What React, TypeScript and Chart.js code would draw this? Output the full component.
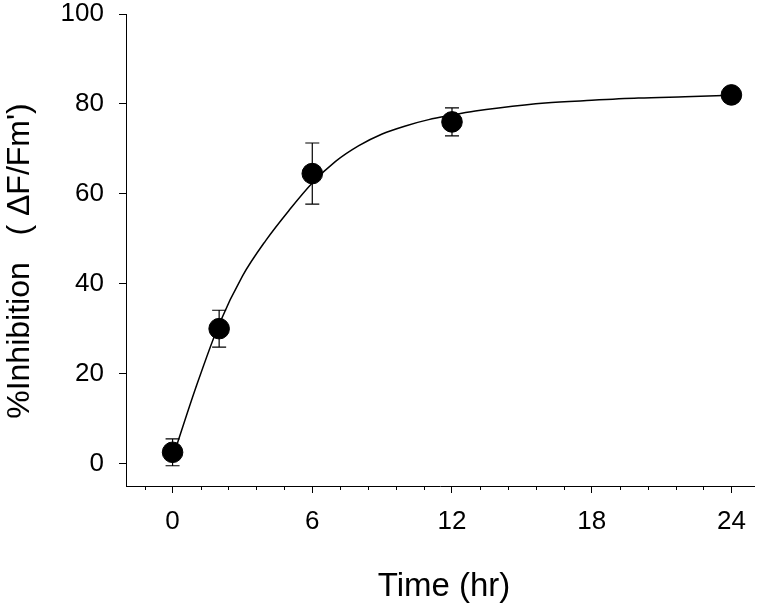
import React, { useEffect, useRef } from 'react';
import { Chart, registerables } from 'chart.js';

Chart.register(...registerables);

// ---- data ----
const timeHr = [0, 2, 6, 12, 24];
const inhibition = [2.5, 30, 64.5, 76, 82];
const inhibitionErr = [3, 4.1, 6.8, 3.1, 0];
const fitTime = [0, 1, 2, 3, 4, 5, 6, 7, 8, 9, 10, 11, 12, 13, 14, 16, 18, 20, 22, 24];
const fitValue = [1.2, 16.9, 31, 41.7, 49.6, 56.3, 62.4, 67.2, 70.7, 73.3, 75.1, 76.5, 77.5, 78.4, 79.1, 80.2, 80.8, 81.3, 81.6, 81.9];
const xMajorTicks = [0, 6, 12, 18, 24];
const xMinorStep = 1.2;
const yTicks = [0, 20, 40, 60, 80, 100];
const xTitle = 'Time (hr)';
const yTitle = "%Inhibition   ( \u0394F/Fm')";

const FONT = "'Liberation Sans', Arial, sans-serif";

const errorBarPlugin = {
  id: 'errorBars',
  beforeDatasetsDraw(chart: any) {
    const { ctx, scales } = chart;
    const xs = scales.x;
    const ys = scales.y;
    ctx.save();
    ctx.strokeStyle = '#000';
    ctx.lineWidth = 1.2;
    timeHr.forEach((t, i) => {
      const e = inhibitionErr[i];
      if (!e) return;
      const px = xs.getPixelForValue(t);
      const top = ys.getPixelForValue(inhibition[i] + e);
      const bot = ys.getPixelForValue(inhibition[i] - e);
      const cap = 7;
      ctx.beginPath();
      ctx.moveTo(px, top);
      ctx.lineTo(px, bot);
      ctx.moveTo(px - cap, top);
      ctx.lineTo(px + cap, top);
      ctx.moveTo(px - cap, bot);
      ctx.lineTo(px + cap, bot);
      ctx.stroke();
    });
    ctx.restore();
  },
};

const minorTickPlugin = {
  id: 'minorTicks',
  afterDraw(chart: any) {
    const { ctx, scales, chartArea } = chart;
    const xs = scales.x;
    ctx.save();
    ctx.strokeStyle = '#000';
    ctx.lineWidth = 1;
    for (let k = -1; k * xMinorStep <= xs.max; k++) {
      if (k % 5 === 0) continue;
      const v = k * xMinorStep;
      if (v < xs.min) continue;
      const px = Math.round(xs.getPixelForValue(v)) + 0.5;
      ctx.beginPath();
      ctx.moveTo(px, chartArea.bottom);
      ctx.lineTo(px, chartArea.bottom + 4);
      ctx.stroke();
    }
    ctx.restore();
  },
};

const titlePlugin = {
  id: 'axisTitles',
  afterDraw(chart: any) {
    const { ctx } = chart;
    ctx.save();
    ctx.fillStyle = '#000';
    ctx.textAlign = 'center';
    ctx.textBaseline = 'alphabetic';
    ctx.font = `33px ${FONT}`;
    ctx.fillText(xTitle, 444, 596);
    ctx.font = `32px ${FONT}`;
    ctx.translate(29, 261);
    ctx.rotate(-Math.PI / 2);
    ctx.fillText(yTitle, 0, 0);
    ctx.restore();
  },
};

export default function App() {
  const ref = useRef<HTMLCanvasElement>(null);

  useEffect(() => {
    document.body.style.margin = '0';
    const canvas = ref.current!;
    const chart = new Chart(canvas, {
      type: 'scatter',
      data: {
        datasets: [
          {
            label: 'Measured',
            data: timeHr.map((t, i) => ({ x: t, y: inhibition[i] })),
            backgroundColor: '#000',
            borderColor: '#000',
            pointRadius: 10.3,
            pointHoverRadius: 10.3,
            showLine: false,
          },
          {
            label: 'Fit',
            type: 'line',
            data: fitTime.map((t, i) => ({ x: t, y: fitValue[i] })),
            borderColor: '#000',
            borderWidth: 1.5,
            pointRadius: 0,
            fill: false,
            cubicInterpolationMode: 'monotone',
          } as any,
        ],
      },
      options: {
        responsive: false,
        animation: false,
        layout: { padding: { top: 0, right: 3, left: 0, bottom: 0 } },
        plugins: {
          legend: { display: false },
          tooltip: { enabled: false },
          title: { display: false },
        },
        scales: {
          x: {
            type: 'linear',
            min: -2,
            max: 25,
            afterFit: (s: any) => {
              s.height = 117;
            },
            afterBuildTicks: (s: any) => {
              s.ticks = xMajorTicks.map((v) => ({ value: v }));
            },
            grid: {
              display: true,
              drawOnChartArea: false,
              drawTicks: true,
              tickLength: 7,
              tickColor: '#000',
              tickWidth: 1,
            },
            border: { display: true, color: '#000', width: 1 },
            ticks: {
              color: '#000',
              font: { family: FONT, size: 26 },
              padding: 13,
              maxRotation: 0,
            },
          },
          y: {
            type: 'linear',
            min: -5,
            max: 100,
            afterFit: (s: any) => {
              s.width = 126;
              s.paddingTop = 14;
              s.paddingBottom = 0;
            },
            afterBuildTicks: (s: any) => {
              s.ticks = yTicks.map((v) => ({ value: v }));
            },
            grid: {
              display: true,
              drawOnChartArea: false,
              drawTicks: true,
              tickLength: 7,
              tickColor: '#000',
              tickWidth: 1,
            },
            border: { display: true, color: '#000', width: 1 },
            ticks: {
              color: '#000',
              font: { family: FONT, size: 26 },
              padding: 15,
            },
          },
        },
      },
      plugins: [errorBarPlugin, minorTickPlugin, titlePlugin],
    });
    return () => chart.destroy();
  }, []);

  return (
    <div style={{ width: 766, height: 603 }}>
      <canvas ref={ref} width={766} height={603} />
    </div>
  );
}
